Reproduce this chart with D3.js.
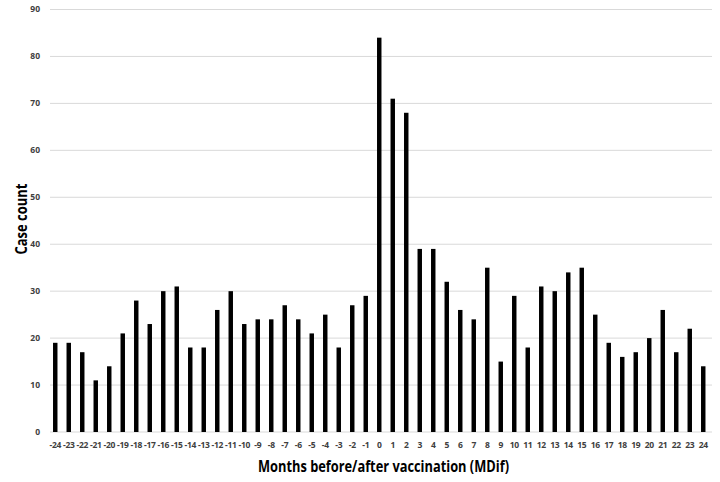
<!DOCTYPE html>
<html>
<head>
<meta charset="utf-8">
<script src="https://cdn.jsdelivr.net/npm/d3@7"></script>
<style>
  body { margin: 0; background: #fff; }
  svg text { font-family: "Open Sans", "DejaVu Sans", sans-serif; }
</style>
</head>
<body>
<svg id="chart"></svg>
<script>
// chart data
var months = d3.range(-24, 25);
var cases = [19, 19, 17, 11, 14, 21, 28, 23, 30, 31, 18, 18, 26, 30, 23, 24, 24, 27, 24, 21, 25, 18, 27, 29,
             84, 71, 68, 39, 39, 32, 26, 24, 35, 15, 29, 18, 31, 30, 34, 35, 25, 19, 16, 17, 20, 26, 17, 22, 14];
var yTicks = [0, 10, 20, 30, 40, 50, 60, 70, 80, 90];

var width = 720, height = 482;
var margin = {top: 9.5, right: 8, bottom: 50, left: 50};

var svg = d3.select("#chart")
    .attr("width", width)
    .attr("height", height);

var x = d3.scaleBand()
    .domain(months)
    .range([48.5, 710])
    .paddingInner(0.67)
    .paddingOuter(0.335);

var y = d3.scaleLinear()
    .domain([0, 90])
    .range([432, margin.top]);

// gridlines
svg.append("g")
  .selectAll("line")
  .data(yTicks)
  .enter().append("line")
    .attr("x1", 50)
    .attr("x2", 712)
    .attr("y1", function(d) { return y(d); })
    .attr("y2", function(d) { return y(d); })
    .style("stroke", "#d9d9d9")
    .style("stroke-width", 1);

// y tick labels
svg.append("g")
  .selectAll("text")
  .data(yTicks)
  .enter().append("text")
    .attr("x", 40)
    .attr("y", function(d) { return y(d); })
    .attr("dy", "0.35em")
    .style("text-anchor", "end")
    .style("font-size", "8.5px")
    .style("font-weight", "bold")
    .style("fill", "#404040")
    .text(function(d) { return d; });

// bars
svg.append("g")
  .selectAll("rect")
  .data(cases)
  .enter().append("rect")
    .attr("x", function(d, i) { return x(months[i]); })
    .attr("y", function(d) { return y(d); })
    .attr("width", x.bandwidth())
    .attr("height", function(d) { return y(0) - y(d); })
    .style("fill", "#000");

// x tick labels
var xAxis = d3.axisBottom(x).tickSize(0).tickPadding(10);
var gx = svg.append("g")
    .attr("transform", "translate(0,432)")
    .call(xAxis);
gx.select(".domain").remove();
gx.selectAll("text")
    .style("font-size", "8.5px")
    .style("font-weight", "bold")
    .style("fill", "#404040")
    .style("letter-spacing", "-0.3px");

// axis titles (narrowed to mimic Calibri)
svg.append("text")
    .attr("x", 383.5)
    .attr("y", 472)
    .attr("textLength", 251)
    .attr("lengthAdjust", "spacingAndGlyphs")
    .style("text-anchor", "middle")
    .style("font-size", "15.5px")
    .style("font-weight", "bold")
    .style("fill", "#000")
    .text("Months before/after vaccination (MDif)");

svg.append("text")
    .attr("transform", "translate(27,219) rotate(-90)")
    .attr("textLength", 71)
    .attr("lengthAdjust", "spacingAndGlyphs")
    .style("text-anchor", "middle")
    .style("font-size", "15.5px")
    .style("font-weight", "bold")
    .style("fill", "#000")
    .text("Case count");
</script>
</body>
</html>
